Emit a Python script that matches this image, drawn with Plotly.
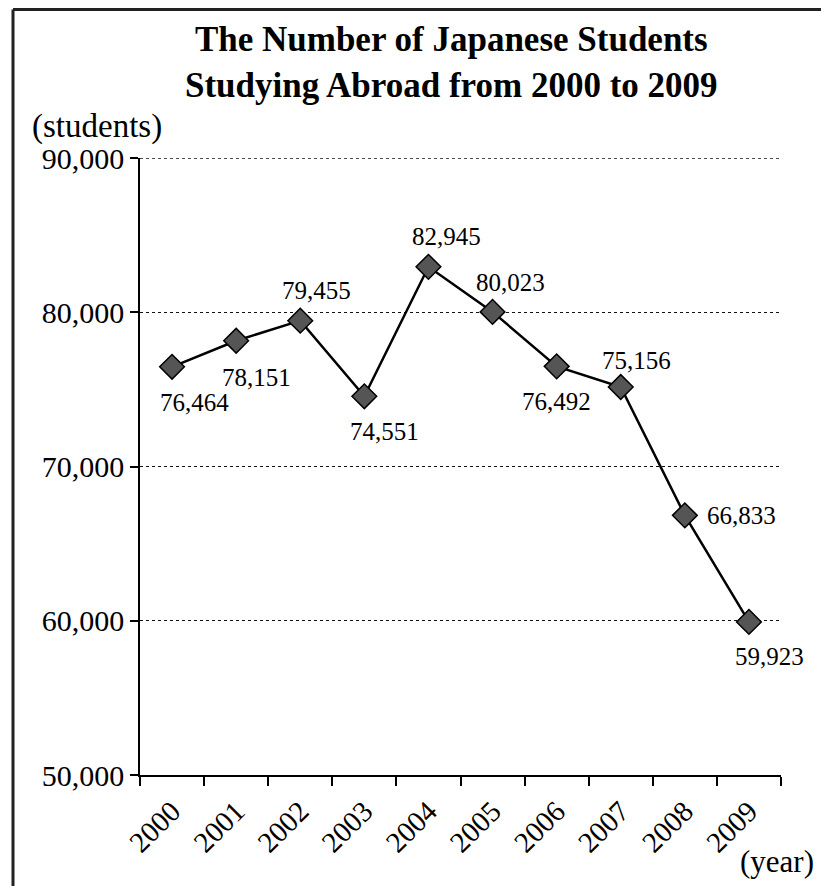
import plotly.graph_objects as go

years = ["2000", "2001", "2002", "2003", "2004", "2005", "2006", "2007", "2008", "2009"]
students = [76464, 78151, 79455, 74551, 82945, 80023, 76492, 75156, 66833, 59923]
value_labels = ["76,464", "78,151", "79,455", "74,551", "82,945", "80,023", "76,492", "75,156", "66,833", "59,923"]
y_ticks = [50000, 60000, 70000, 80000, 90000]

# label pixel offsets (style only)
label_shift = [(22, -36), (20, -37), (16, 30), (20, -35), (18, 30),
               (18, 29), (0, -35), (16, 26), (57, 0), (21, -35)]

FONT = "Liberation Serif"
W, H = 821, 886
L, R, T, B = 140, 40, 158, 111

fig = go.Figure()
fig.add_trace(go.Scatter(
    x=years, y=students, mode="lines+markers",
    line=dict(color="black", width=2.5),
    marker=dict(symbol="diamond", size=19, color="#555555",
                line=dict(color="black", width=1.5)),
    hoverinfo="skip", showlegend=False,
))

annotations = []
for i, (v, lab, (dx, dy)) in enumerate(zip(students, value_labels, label_shift)):
    annotations.append(dict(x=i, y=v, xref="x", yref="y", text=lab, showarrow=False,
                            xshift=dx, yshift=dy,
                            font=dict(family=FONT, size=25, color="black")))

pw, ph = W - L - R, H - T - B
def px(x):
    return (x - L) / pw
def py(y):
    return (H - B - y) / ph

annotations.append(dict(x=px(451), y=py(62), xref="paper", yref="paper",
                        text="<b>The Number of Japanese Students<br>Studying Abroad from 2000 to 2009</b>",
                        showarrow=False, xanchor="center", yanchor="middle",
                        font=dict(family=FONT, size=35, color="black")))
annotations.append(dict(x=px(97), y=py(126), xref="paper", yref="paper", text="(students)",
                        showarrow=False, xanchor="center", yanchor="middle",
                        font=dict(family=FONT, size=33, color="black")))
annotations.append(dict(x=px(816), y=py(861), xref="paper", yref="paper", text="(year)",
                        showarrow=False, xanchor="right", yanchor="middle",
                        font=dict(family=FONT, size=31, color="black")))

shapes = [
    dict(type="line", xref="paper", yref="paper", x0=px(13), x1=px(830), y0=py(9.5), y1=py(9.5),
         line=dict(color="#222", width=3)),
    dict(type="line", xref="paper", yref="paper", x0=px(13), x1=px(13), y0=py(9.5), y1=py(900),
         line=dict(color="#222", width=3)),
    # top gridline (Plotly omits the grid line at the range edge)
    dict(type="line", xref="paper", yref="y", x0=0, x1=1, y0=y_ticks[-1], y1=y_ticks[-1],
         line=dict(color="#111", width=1.4, dash="dot"), layer="below"),
]

fig.update_layout(
    width=W, height=H,
    margin=dict(l=L, r=R, t=T, b=B, autoexpand=False),
    paper_bgcolor="white", plot_bgcolor="white",
    font=dict(family=FONT, color="black"),
    annotations=annotations, shapes=shapes,
    xaxis=dict(type="category", range=[-0.5, 9.5], showline=True, linecolor="black", linewidth=1.5,
               ticks="outside", ticklen=9, tickwidth=1.5, tickcolor="black",
               tickson="boundaries", tickangle=-45, showgrid=False, ticklabelstandoff=6,
               tickfont=dict(family=FONT, size=29, color="black")),
    yaxis=dict(range=[50000, 90000], tickvals=y_ticks, tickformat=",d",
               showline=True, linecolor="black", linewidth=1.5,
               ticks="outside", ticklen=8, tickwidth=1.5, tickcolor="black",
               showgrid=True, gridcolor="#111", griddash="dot", gridwidth=1.4,
               zeroline=False, tickfont=dict(family=FONT, size=30, color="black")),
)

fig.write_html("out.html", config={"displayModeBar": False},
               post_script="document.body.style.margin='0px';")
